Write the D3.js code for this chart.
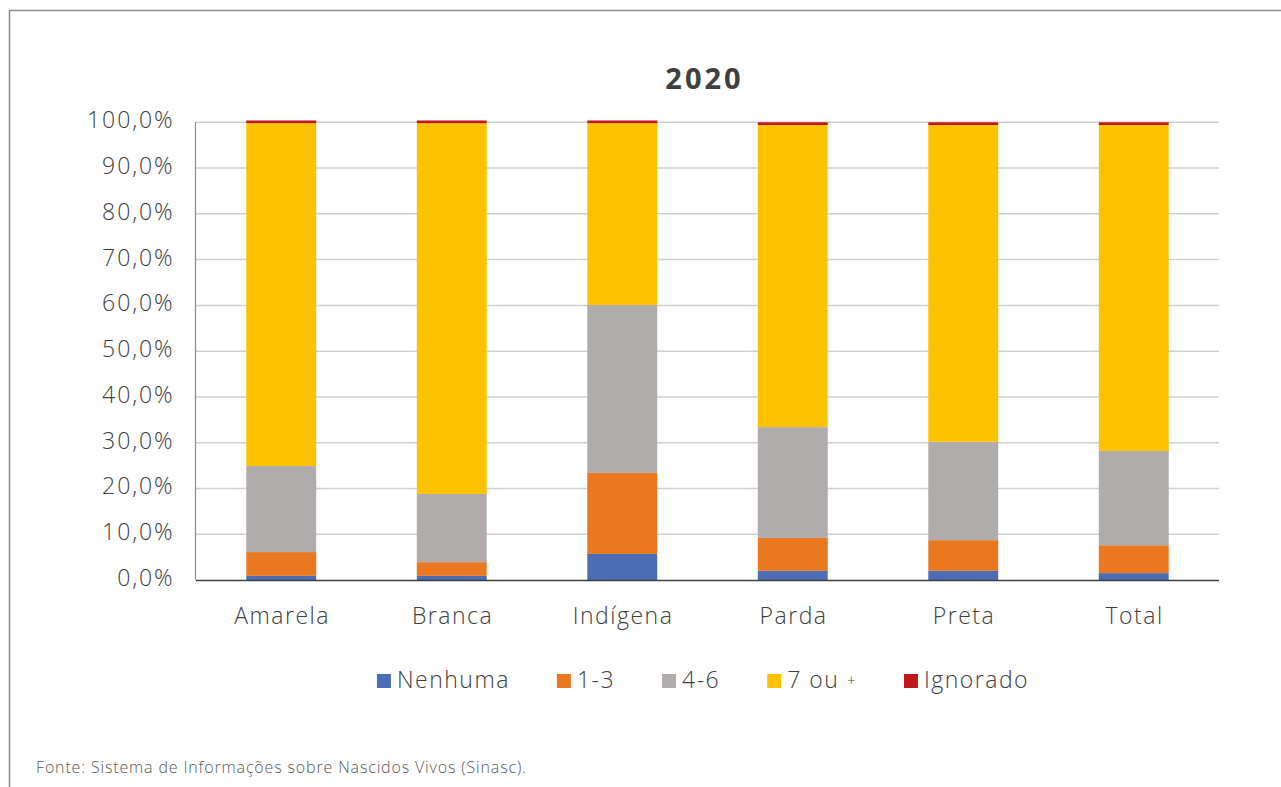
<!DOCTYPE html>
<html><head><meta charset="utf-8">
<script src="https://cdn.jsdelivr.net/npm/d3@7"></script>
<style>
html,body{margin:0;padding:0;background:#fff;}
svg{display:block;}
text{font-family:"Open Sans","Lato",sans-serif;}
</style></head>
<body>
<svg id="chart" width="1281" height="787"></svg>
<script>
const categories = ["Amarela","Branca","Indígena","Parda","Preta","Total"];
const seriesNames = ["Nenhuma","1-3","4-6","7 ou +","Ignorado"];
const nenhuma  = [0.9, 0.9, 5.7, 2.0, 2.0, 1.5];
const um3      = [5.2, 3.0, 17.7, 7.2, 6.7, 6.1];
const quatro6  = [18.8, 14.9, 36.7, 24.2, 21.5, 20.6];
const sete     = [74.9, 81.0, 39.7, 66.0, 69.2, 71.2];
const ignorado = [0.6, 0.6, 0.6, 0.6, 0.6, 0.6];
const colors = ["#4A6DB5","#EA7820","#AFACAB","#FDC300","#C0191C"];
const yTicks = [0,10,20,30,40,50,60,70,80,90,100];
const title = "2020";
const source = "Fonte: Sistema de Informações sobre Nascidos Vivos (Sinasc).";

const svg = d3.select("#chart");
svg.append("path").attr("d","M9.5,787 L9.5,10.5 L1281,10.5")
  .attr("fill","none").attr("stroke","#8c8c8c").attr("stroke-width",1.5);

const x = d3.scaleBand().domain(categories).range([196,1219]).paddingInner(0.59).paddingOuter(0.295);
const y = d3.scaleLinear().domain([0,100]).range([580,122.3]);

svg.append("g").selectAll("line").data(yTicks.filter(d=>d>0)).join("line")
  .attr("x1",196).attr("x2",1219).attr("y1",d=>y(d)).attr("y2",d=>y(d))
  .attr("stroke","#d0d0d0").attr("stroke-width",1.5);

svg.append("line").attr("x1",195.5).attr("x2",195.5).attr("y1",y(100)).attr("y2",y(0))
  .attr("stroke","#8c8c8c").attr("stroke-width",1.2);

const rows = categories.map((c,i)=>({cat:c,"Nenhuma":nenhuma[i],"1-3":um3[i],"4-6":quatro6[i],"7 ou +":sete[i],"Ignorado":ignorado[i]}));
const stack = d3.stack().keys(seriesNames)(rows);
svg.append("g").selectAll("g").data(stack).join("g")
  .attr("fill",(d,i)=>colors[i])
  .selectAll("rect").data(d=>d).join("rect")
  .attr("x",d=>x(d.data.cat)).attr("width",x.bandwidth())
  .attr("y",d=>y(d[1])).attr("height",d=>y(d[0])-y(d[1]));

svg.append("line").attr("x1",196).attr("x2",1219).attr("y1",580.5).attr("y2",580.5)
  .attr("stroke","#404040").attr("stroke-width",1.5);

svg.append("g").selectAll("text").data(yTicks).join("text")
  .attr("x",174.5).attr("y",d=>y(d)+6).attr("text-anchor","end")
  .attr("font-size",23).attr("font-weight",300).attr("fill","#404040")
  .attr("letter-spacing",1.9)
  .text(d=>d3.format(".1f")(d).replace(".",",")+"%");

svg.append("g").selectAll("text").data(categories).join("text")
  .attr("x",d=>x(d)+x.bandwidth()/2+0.8).attr("y",624).attr("text-anchor","middle")
  .attr("font-size",23).attr("font-weight",300).attr("fill","#404040")
  .attr("letter-spacing",1.5).text(d=>d);

svg.append("text").attr("x",704.5).attr("y",89).attr("text-anchor","middle")
  .attr("font-size",29).attr("font-weight",700).attr("fill","#404040")
  .attr("letter-spacing",3).text(title);

const lg = svg.append("g");
let cx = 0;
seriesNames.forEach((s,i)=>{
  const g = lg.append("g").attr("transform",`translate(${cx},0)`);
  g.append("rect").attr("x",0).attr("y",674).attr("width",14).attr("height",14).attr("fill",colors[i]);
  const t = g.append("text").attr("x",20).attr("y",688).attr("font-size",23).attr("font-weight",300)
    .attr("fill","#404040").attr("letter-spacing",1.5);
  if (s === "7 ou +") {
    t.append("tspan").text("7 ou ");
    t.append("tspan").attr("font-size",15).attr("dy",-2).text("+");
  } else t.text(s);
  const w = 20 + t.node().getComputedTextLength();
  cx += w + 47;
});
const total = cx - 47;
lg.attr("transform",`translate(${703 - total/2},0)`);

svg.append("text").attr("x",36).attr("y",773).attr("font-size",16).attr("font-weight",300)
  .attr("fill","#595959").attr("letter-spacing",0.85).text(source);
</script>
</body></html>
